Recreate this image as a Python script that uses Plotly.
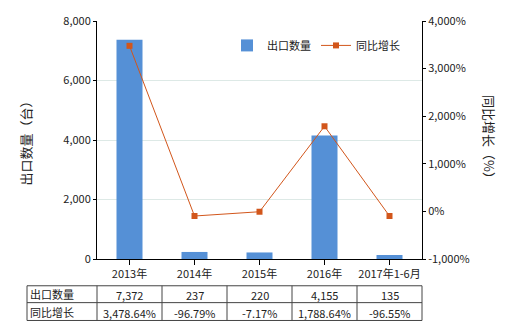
import plotly.graph_objects as go

categories = ["2013年", "2014年", "2015年", "2016年", "2017年1-6月"]
export_qty = [7372, 237, 220, 4155, 135]
yoy_growth = [3478.64, -96.79, -7.17, 1788.64, -96.55]
qty_labels = ["7,372", "237", "220", "4,155", "135"]
growth_labels = ["3,478.64%", "-96.79%", "-7.17%", "1,788.64%", "-96.55%"]
row_headers = ["出口数量", "同比增长"]

FONT = "Noto Sans CJK SC"
BAR_C = "#5590d6"
LINE_C = "#d2561b"
FS = 11

fig = go.Figure()
fig.add_trace(go.Bar(x=categories, y=export_qty, name="出口数量",
                     marker=dict(color=BAR_C, line=dict(width=0)), width=0.4))
fig.add_trace(go.Scatter(x=categories, y=yoy_growth, name="同比增长", yaxis="y2",
                         mode="lines+markers",
                         line=dict(color=LINE_C, width=1),
                         marker=dict(symbol="square", size=6, color=LINE_C)))

W, H = 520, 330
L, R, T, B = 97, 98, 19, 71
pw = W - L - R
ph = H - T - B

def px_x(px):
    return (px - L) / pw

def px_y(py):
    return (H - B - py) / ph

shapes = []
annotations = []
top, mid, bot = 286, 303, 321
left = 27
line_style = dict(color="#444444", width=1)
for yy in (top, mid, bot):
    shapes.append(dict(type="line", xref="paper", yref="paper",
                       x0=px_x(left), x1=1, y0=px_y(yy), y1=px_y(yy), line=line_style))
for xx in [left, L] + [L + pw * (i + 1) / len(categories) for i in range(len(categories))]:
    shapes.append(dict(type="line", xref="paper", yref="paper",
                       x0=px_x(xx), x1=px_x(xx), y0=px_y(top), y1=px_y(bot), line=line_style))

for r, hdr in enumerate(row_headers):
    yc = px_y((top + mid) / 2 if r == 0 else (mid + bot) / 2)
    annotations.append(dict(xref="paper", yref="paper", x=px_x(left + 1), y=yc,
                            text=hdr, showarrow=False, xanchor="left", yanchor="middle",
                            font=dict(size=FS, color="#222222", family=FONT)))
for i, c in enumerate(categories):
    xc = px_x(L + pw * (i + 0.5) / len(categories))
    annotations.append(dict(xref="paper", yref="paper", x=xc, y=px_y((top + mid) / 2 + 1),
                            text=qty_labels[i], showarrow=False, xanchor="center", yanchor="middle",
                            font=dict(size=FS, color="#222222", family=FONT)))
    annotations.append(dict(xref="paper", yref="paper", x=xc, y=px_y((mid + bot) / 2 + 1),
                            text=growth_labels[i], showarrow=False, xanchor="center", yanchor="middle",
                            font=dict(size=FS, color="#222222", family=FONT)))

fig.update_layout(
    width=W, height=H,
    margin=dict(l=L, r=R, t=T, b=B, pad=0),
    paper_bgcolor="white", plot_bgcolor="white",
    font=dict(family=FONT, size=FS, color="#222222"),
    showlegend=True,
    legend=dict(orientation="h", x=px_x(227), y=px_y(29), xanchor="left", yanchor="top",
                font=dict(size=FS, family=FONT), bgcolor="rgba(0,0,0,0)",
                itemwidth=30, tracegroupgap=0),
    xaxis=dict(type="category", showline=True, linecolor="#000000", linewidth=1,
               ticks="outside", ticklen=5, tickcolor="#000000",
               tickfont=dict(size=FS, family=FONT), showgrid=False, zeroline=False),
    yaxis=dict(range=[0, 8000], tickvals=[0, 2000, 4000, 6000, 8000],
               ticktext=["0", "2,000", "4,000", "6,000", "8,000"],
               showline=True, linecolor="#000000", linewidth=1,
               ticks="outside", ticklen=3, tickcolor="#000000",
               showgrid=True, gridcolor="#dde9e6", gridwidth=1, zeroline=False,
               tickfont=dict(size=FS, family=FONT),
               title=dict(text="出口数量（台）", font=dict(size=13, family=FONT), standoff=28)),
    yaxis2=dict(range=[-1000, 4000], overlaying="y", side="right",
                tickvals=[-1000, 0, 1000, 2000, 3000, 4000],
                ticktext=["-1,000%", "0%", "1,000%", "2,000%", "3,000%", "4,000%"],
                showline=True, linecolor="#000000", linewidth=1,
                ticks="outside", ticklen=3, tickcolor="#000000",
                showgrid=False, zeroline=False,
                tickfont=dict(size=FS, family=FONT)),
    shapes=shapes,
    annotations=annotations + [dict(xref="paper", yref="paper", x=px_x(490), y=0.5,
                                    text="同比增长（%）", textangle=90, showarrow=False,
                                    xanchor="center", yanchor="middle",
                                    font=dict(size=13, family=FONT))],
    bargap=0.6,
)

fig.write_html("out.html")
